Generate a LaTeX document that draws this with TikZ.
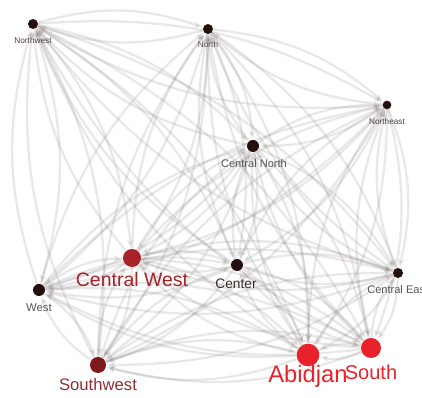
\documentclass[tikz,border=0pt]{standalone}
\usepackage{fontspec}
\setmainfont{Liberation Sans}
\usetikzlibrary{arrows.meta}
\pgfdeclarelayer{bg}
\pgfsetlayers{bg,main}
\definecolor{nodedark}{HTML}{24100F}
\definecolor{cwred}{HTML}{A8222A}
\definecolor{swred}{HTML}{7E1A1E}
\definecolor{brightred}{HTML}{E8222B}
\definecolor{lblgray}{HTML}{555555}
\definecolor{edgegray}{HTML}{8A8080}
\tikzset{
  vtx/.style={circle,inner sep=0pt,fill=nodedark},
  lbl/.style={inner sep=0pt,anchor=center},
  link/.style={draw=edgegray,opacity=0.19,line width=1.7pt,bend left=17,
    -{Stealth[length=6pt,width=5pt]},shorten >=1pt},
}
\begin{document}
\begin{tikzpicture}[x=0.75pt,y=-0.75pt]
\useasboundingbox (0,0) rectangle (422,398);
% vertices
\node[vtx,minimum size=7.5pt] (NW) at (33,24) {};
\node[vtx,minimum size=7.5pt] (N) at (208,29) {};
\node[vtx,minimum size=6.5pt] (NE) at (387,105) {};
\node[vtx,minimum size=9pt] (CN) at (253,146) {};
\node[vtx,minimum size=13.5pt,fill=cwred] (CW) at (132,258) {};
\node[vtx,minimum size=9pt] (C) at (237,265) {};
\node[vtx,minimum size=9pt] (W) at (39,290) {};
\node[vtx,minimum size=7.5pt] (CE) at (398,273) {};
\node[vtx,minimum size=12pt,fill=swred] (SW) at (98,365) {};
\node[vtx,minimum size=17pt,fill=brightred] (A) at (308,355) {};
\node[vtx,minimum size=15pt,fill=brightred] (S) at (371,348) {};
% edges
\begin{pgfonlayer}{bg}
\foreach \a in {NW,N,NE,CN,CW,C,W,CE,SW,A,S}{
  \foreach \b in {NW,N,NE,CN,CW,C,W,CE,SW,A,S}{
    \ifx\a\b\else
      \draw[link] (\a) to (\b);
    \fi
  }
}
\end{pgfonlayer}
% labels
\node[lbl,font=\fontsize{6.2pt}{7pt}\selectfont,text=nodedark!80] (lNW) at (33,41) {Northwest};
\node[lbl,font=\fontsize{6.2pt}{7pt}\selectfont,text=nodedark!80] (lN) at (208,45) {North};
\node[lbl,font=\fontsize{6.2pt}{7pt}\selectfont,text=nodedark!80] (lNE) at (387,122) {Northeast};
\node[lbl,font=\fontsize{8.3pt}{9pt}\selectfont,text=lblgray] (lCN) at (254,164) {Central North};
\node[lbl,font=\fontsize{14.6pt}{16pt}\selectfont,text=cwred] (lCW) at (132,280) {Central West};
\node[lbl,font=\fontsize{10.3pt}{11pt}\selectfont,text=nodedark!90] (lC) at (236,284) {Center};
\node[lbl,font=\fontsize{8.5pt}{9pt}\selectfont,text=lblgray] (lW) at (39,308) {West};
\node[lbl,font=\fontsize{8.3pt}{9pt}\selectfont,text=lblgray,anchor=west] (lCE) at (367,290) {Central East};
\node[lbl,font=\fontsize{12.5pt}{14pt}\selectfont,text=swred!90] (lSW) at (98,385) {Southwest};
\node[lbl,font=\fontsize{17.8pt}{19pt}\selectfont,text=brightred] (lA) at (308,376) {Abidjan};
\node[lbl,font=\fontsize{15pt}{16pt}\selectfont,text=brightred] (lS) at (371,372) {South};
\end{tikzpicture}
\end{document}
